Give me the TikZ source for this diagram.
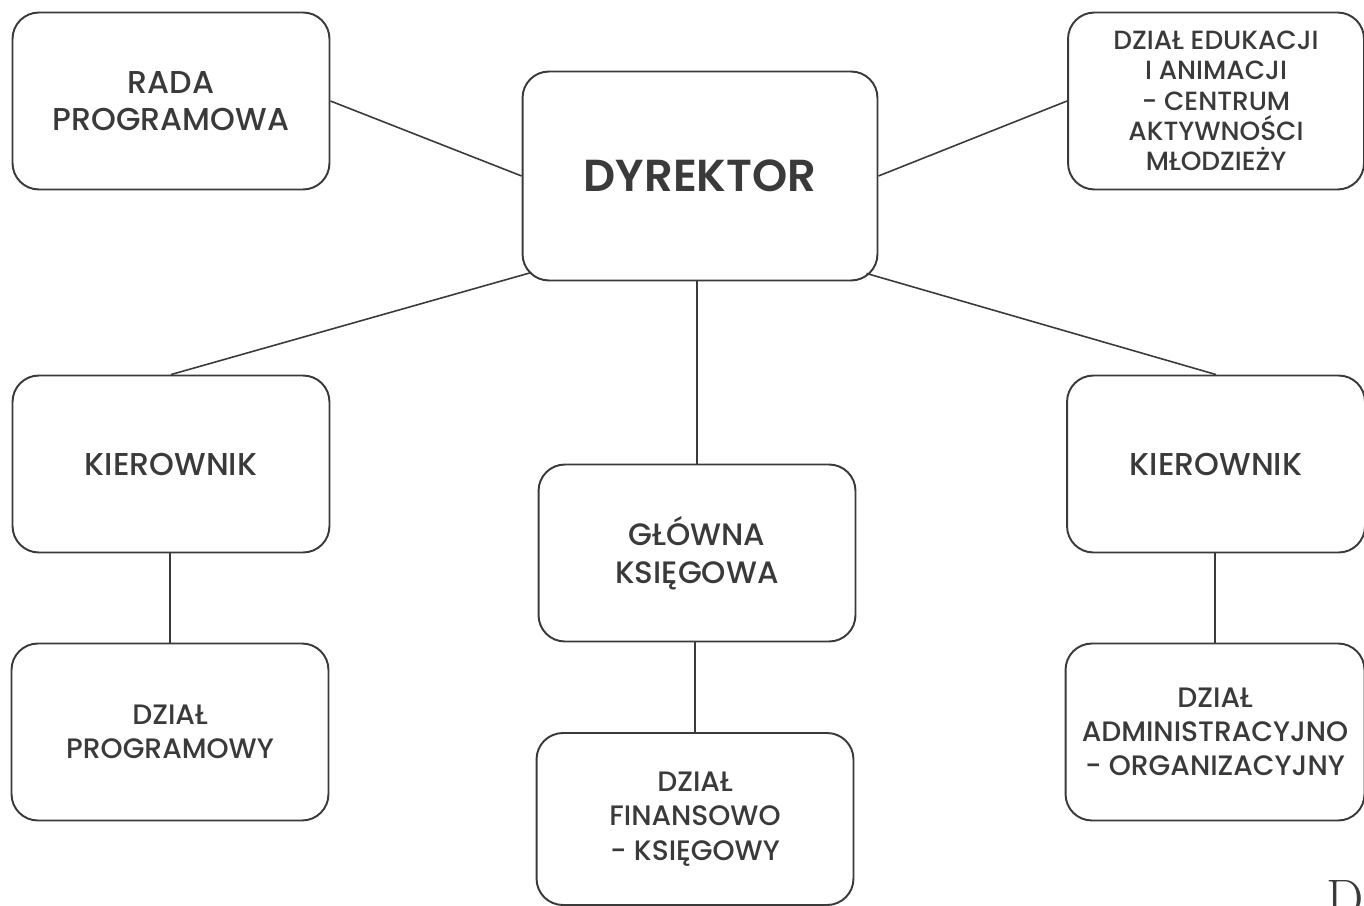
\documentclass[tikz,border=0pt]{standalone}
\usepackage{fontspec}
\setmainfont{Poppins}[UprightFont={* Medium},BoldFont={* SemiBold}]
\newfontfamily\scrapfont{Latin Modern Roman}
\usetikzlibrary{positioning,calc}
\definecolor{ink}{HTML}{3A3A3A}

\begin{document}
\begin{tikzpicture}[x=0.02cm,y=-0.02cm,
				every node/.style={unit},
				unit/.style={draw=ink,line width=1.1pt,rounded corners=15pt,rectangle,align=center,
					text=ink,font=\fontsize{18}{20}\selectfont,minimum width=6.34cm,minimum height=3.54cm,inner sep=0pt},
				small/.style={font=\fontsize{16}{19.5}\selectfont},
				link/.style={draw=ink,line width=0.9pt}]
				\useasboundingbox (0,0) rectangle (1364,905);
				\fill[white] (0,0) rectangle (1364,905);
				\node (RADA)  [font=\fontsize{18}{21}\selectfont] at (171,101) {RADA\\PROGRAMOWA};
				\node (DYR)   [minimum width=7.1cm,minimum height=4.18cm,font=\fontsize{25.5}{30}\bfseries] at (700,176) {DYREKTOR};
				\node (EDU)   [minimum width=5.92cm,font=\fontsize{15}{17.3}\selectfont] at (1216,101) {DZIAŁ EDUKACJI\\I ANIMACJI\\- CENTRUM\\AKTYWNOŚCI\\MŁODZIEŻY};
				\node (KIERL) at (171,464)                    {KIEROWNIK};
				\node (GLOW)  [font=\fontsize{17.6}{21.5}\selectfont] at (697,553) {GŁÓWNA\\KSIĘGOWA};
				\node (KIERR) [minimum width=5.96cm] at (1216,464) {KIEROWNIK};
				\node (PROG)  [small] at (170,732)            {DZIAŁ\\PROGRAMOWY};
				\node (FIN)   [small,minimum height=3.44cm] at (695,819) {DZIAŁ\\FINANSOWO\\- KSIĘGOWY};
				\node (ADM)   [small,minimum width=5.98cm] at (1215,732) {DZIAŁ\\ADMINISTRACYJNO\\- ORGANIZACYJNY};
				\node (SCRAP) [draw=none,anchor=north west,font=\scrapfont\fontsize{30}{30}\selectfont,minimum width=0pt,minimum height=0pt] at (1326,880) {D};

				\draw[link] (RADA.east)  -- (DYR.west);
				\draw[link] (DYR.east)   -- (EDU.west);
				\draw[link] (KIERL.north) -- ($(DYR.south west)+(10,-9)$);
				\draw[link] (KIERR.north) -- ($(DYR.south east)+(-12,-8)$);
				\draw[link] (DYR.south -| GLOW.north) -- (GLOW.north);
				\draw[link] (GLOW.south -| FIN.north) -- (FIN.north);
				\draw[link] (KIERL.south -| PROG.north) -- (PROG.north);
				\draw[link] (KIERR.south -| ADM.north) -- (ADM.north);
			\end{tikzpicture}
\end{document}
